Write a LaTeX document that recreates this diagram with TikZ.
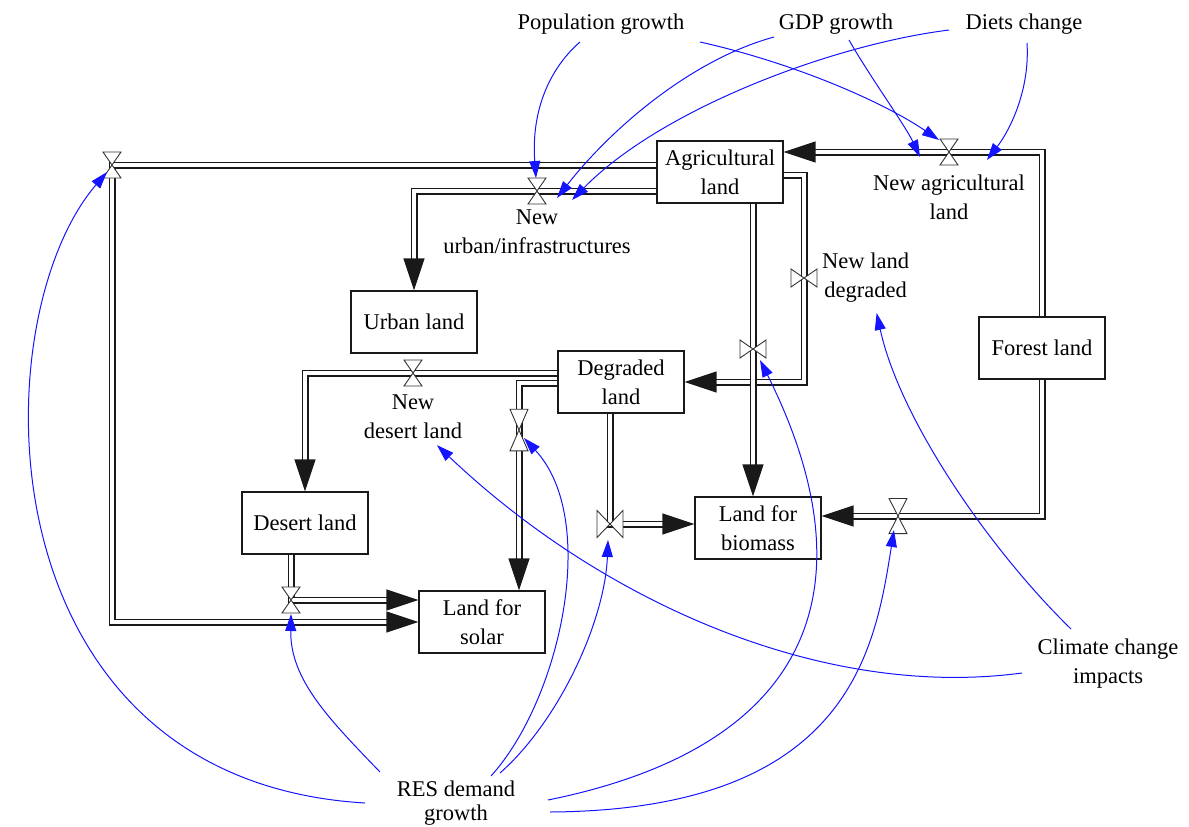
\documentclass[tikz,border=0pt]{standalone}
\usepackage{fontspec}
\setmainfont{Liberation Serif}
\usetikzlibrary{positioning, arrows.meta}
\definecolor{linkblue}{RGB}{20,20,255}

\tikzset{
  hglass/.pic={\draw[valveline] (-9,-13) -- (9,-13) -- (-9,13) -- (9,13) -- cycle;},
  bowtie/.pic={\draw[valveline] (-13,-9) -- (-13,9) -- (13,-9) -- (13,9) -- cycle;}
}

\begin{document}
\begin{tikzpicture}[x=1pt, y=-1pt, font=\fontsize{22.5}{29}\selectfont,
    stock/.style={draw=black!90, line width=1.3pt, minimum width=126pt,
      minimum height=62pt, align=center, inner sep=2pt},
    lbl/.style={align=center, inner sep=0pt},
    pipe/.style={draw=black!90, line width=1.5pt, double=white, double distance=4pt},
    flow/.style={pipe, -{Triangle[length=32pt,width=21pt]}},
    link/.style={draw=linkblue, line width=1pt, -{Triangle[length=17pt,width=11pt]}},
    valveline/.style={draw=black!80, line width=0.9pt, fill=white}]
  \useasboundingbox (0,0) rectangle (1189,827);

  % stocks
  \node[stock] (agri) at (720,172) {Agricultural\\land};
  \node[stock] (urban) at (414,322) {Urban land};
  \node[stock] (degr) at (621,382) {Degraded\\land};
  \node[stock] (forest) at (1042,348) {Forest land};
  \node[stock] (desert) at (305,523) {Desert land};
  \node[stock] (solar) at (482,622) {Land for\\solar};
  \node[stock] (biomass) at (758,528) {Land for\\biomass};

  % valves
  \coordinate (vSolarA) at (112,165);
  \coordinate (vUrban) at (537,191);
  \coordinate (vAgri) at (949,152);
  \coordinate (vDegr) at (804,278);
  \coordinate (vBioA) at (753,349);
  \coordinate (vDesert) at (413,373);
  \coordinate (vSolarD) at (519,430);
  \coordinate (vBioD) at (610,524);
  \coordinate (vBioF) at (898,516);
  \coordinate (vDesSol) at (291,600);

  % flows
  \draw[flow] ([shift={(0,-7)}]agri.west) -- (vSolarA) |- (solar.west);
  \draw[flow] ([shift={(0,19)}]agri.west) -- (vUrban) -| (urban.north);
  \draw[flow] (forest.north) |- (vAgri) -- ([shift={(0,-20)}]agri.east);
  \draw[flow] (forest.south) |- (vBioF) -- ([shift={(0,-12)}]biomass.east);
  \draw[flow] ([shift={(0,3)}]agri.east) -| (vDegr) |- (degr.east);
  \draw[flow] ([shift={(33,0)}]agri.south) -- (vBioA) -- ([shift={(-5,0)}]biomass.north);
  \draw[flow] ([shift={(0,-9)}]degr.west) -- (vDesert) -| (desert.north);
  \draw[flow] ([shift={(0,1)}]degr.west) -| (vSolarD) -- ([shift={(37,0)}]solar.north);
  \draw[flow] ([shift={(-11,0)}]degr.south) -- (vBioD) -- ([shift={(0,-4)}]biomass.west);
  \draw[flow] ([shift={(-14,0)}]desert.south) -- (vDesSol) -- ([shift={(0,-22)}]solar.west);

  \foreach \v in {vSolarA, vUrban, vAgri, vDesert, vDesSol}
    \pic at (\v) {hglass};
  \pic at (vDegr) {bowtie};
  \pic at (vBioA) {bowtie};
  \pic[yscale=1.5] at (vBioD) {bowtie};
  \pic[yscale=1.6] at (vSolarD) {hglass};
  \pic[yscale=1.35] at (vBioF) {hglass};

  % flow names
  \node[lbl, below=19pt of vUrban] (lUrban) {New\\urban/infrastructures};
  \node[lbl, below=23pt of vAgri] (lAgri) {New agricultural\\land};
  \node[lbl, right=18pt of vDegr] (lDegr) {New land\\degraded};
  \node[lbl, below=22pt of vDesert] (lDesert) {New\\desert land};

  % drivers
  \node[lbl] (popu) at (601,24) {Population growth};
  \node[lbl] (gdp) at (836,24) {GDP growth};
  \node[lbl] (diet) at (1024,24) {Diets change};
  \node[lbl] (clim) at (1108,664) {Climate change\\impacts};
  \node[lbl, font=\fontsize{22.5}{24}\selectfont] (res) at (456,803) {RES demand\\growth};

  % links
  \draw[link] ([shift={(-21,18)}]popu.center) .. controls (550,68) and (531,110) .. ([shift={(-1,-13)}]vUrban);
  \draw[link] ([shift={(99,18)}]popu.center) .. controls (790,62) and (880,100) .. ([shift={(-10,-12)}]vAgri);
  \draw[link] ([shift={(-62,13)}]gdp.center) .. controls (690,60) and (610,130) .. ([shift={(20,7)}]vUrban);
  \draw[link] ([shift={(13,16)}]gdp.center) .. controls (872,80) and (905,125) .. ([shift={(-29,5)}]vAgri);
  \draw[link] ([shift={(-75,6)}]diet.center) .. controls (830,45) and (660,110) .. ([shift={(35,9)}]vUrban);
  \draw[link] ([shift={(3,19)}]diet.center) .. controls (1030,90) and (1010,130) .. ([shift={(38,8)}]vAgri);
  \draw[link] ([shift={(-37,-35)}]clim.center) .. controls (990,550) and (900,420) .. ([shift={(11,35)}]lDegr.center);
  \draw[link] ([shift={(-86,9)}]clim.center) .. controls (820,700) and (600,600) .. ([shift={(24,28)}]lDesert.center);
  \draw[link] ([shift={(-91,0)}]res.center) .. controls (-20,780) and (-20,320) .. ([shift={(-5,7)}]vSolarA);
  \draw[link] ([shift={(-76,-31)}]res.center) .. controls (330,720) and (290,680) .. ([shift={(0,14)}]vDesSol);
  \draw[link] ([shift={(35,-27)}]res.center) .. controls (560,700) and (600,520) .. ([shift={(5,8)}]vSolarD);
  \draw[link] ([shift={(44,-30)}]res.center) .. controls (560,720) and (605,620) .. ([shift={(-2,16)}]vBioD);
  \draw[link] ([shift={(92,-3)}]res.center) .. controls (820,745) and (870,580) .. ([shift={(7,11)}]vBioA);
  \draw[link] ([shift={(94,9)}]res.center) .. controls (850,810) and (875,650) .. ([shift={(-4,14)}]vBioF);
\end{tikzpicture}
\end{document}
